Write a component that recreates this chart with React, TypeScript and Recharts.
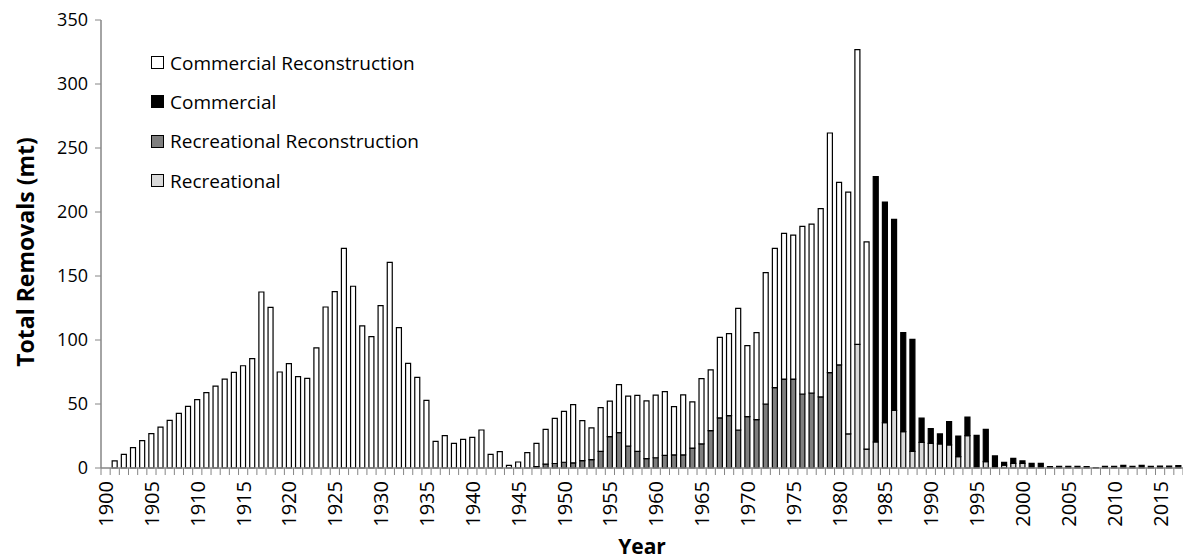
import React from 'react';
import { BarChart, Bar, XAxis, YAxis, Label } from 'recharts';

// categories: one bar per year
const years = Array.from({ length: 118 }, (_, i) => 1900 + i);

// stacked segments, bottom to top (mt)
const recreational = [
  0, 0, 0, 0, 0, 0, 0, 0, 0, 0,
  0, 0, 0, 0, 0, 0, 0, 0, 0, 0,
  0, 0, 0, 0, 0, 0, 0, 0, 0, 0,
  0, 0, 0, 0, 0, 0, 0, 0, 0, 0,
  0, 0, 0, 0, 0, 0, 0, 0, 0, 0,
  0, 0, 0, 0, 0, 0, 0, 0, 0, 0,
  0, 0, 0, 0, 0, 0, 0, 0, 0, 0,
  0, 0, 0, 0, 0, 0, 0, 0, 0, 0,
  0, 26.6, 96.6, 14.8, 20.3, 35.4, 45, 28.4, 13, 20,
  19.3, 18.8, 18, 8.9, 25.3, 0, 5, 0, 2.3, 3.6,
  3.6, 0, 0, 0, 0, 0, 0, 0, 0, 0,
  0, 0, 0, 0, 0, 0, 0, 0,
];

const recreationalRecon = [
  0, 0, 0, 0, 0, 0, 0, 0, 0, 0,
  0, 0, 0, 0, 0, 0, 0, 0, 0, 0,
  0, 0, 0, 0, 0, 0, 0, 0, 0, 0,
  0, 0, 0, 0, 0, 0, 0, 0, 0, 0,
  0, 0, 0, 0, 0, 0, 0, 1, 3, 3.5,
  4.5, 4, 5.7, 6.5, 13, 24.5, 27.6, 17.2, 13, 7.3,
  8, 9.8, 10.2, 10.2, 15.6, 18.8, 29.2, 39.1, 40.9, 29.7,
  40.1, 37.8, 50, 62.8, 69.5, 69.5, 57.8, 58.6, 55.5, 74.5,
  80.5, 0, 0, 0, 0, 0, 0, 0, 0, 0,
  0, 0, 0, 0, 0, 0, 0, 0, 0, 0,
  0, 0, 0, 0, 0, 0, 0, 0, 0, 0,
  0, 0, 0, 0, 0, 0, 0, 0,
];

const commercial = [
  0, 0, 0, 0, 0, 0, 0, 0, 0, 0,
  0, 0, 0, 0, 0, 0, 0, 0, 0, 0,
  0, 0, 0, 0, 0, 0, 0, 0, 0, 0,
  0, 0, 0, 0, 0, 0, 0, 0, 0, 0,
  0, 0, 0, 0, 0, 0, 0, 0, 0, 0,
  0, 0, 0, 0, 0, 0, 0, 0, 0, 0,
  0, 0, 0, 0, 0, 0, 0, 0, 0, 0,
  0, 0, 0, 0, 0, 0, 0, 0, 0, 0,
  0, 0, 0, 0, 207.3, 172.4, 149.3, 77.3, 87.5, 19,
  11.5, 7.8, 18.2, 16.1, 14.5, 25.5, 25.2, 9.4, 2.1, 3.9,
  1.9, 3.6, 3.6, 1.0, 1.2, 1.2, 1.2, 1.0, 0.3, 1.2,
  1.2, 2.0, 1.2, 2.0, 1.2, 1.5, 1.5, 1.8,
];

const commercialRecon = [
  0, 5.5, 10.7, 15.9, 21.4, 26.8, 32, 37.2, 42.7, 48.2,
  53.4, 58.9, 64, 69.5, 74.7, 79.9, 85.4, 137.5, 125.5, 75,
  81.5, 71.4, 70, 93.8, 125.8, 137.8, 171.6, 142, 111, 102.6,
  126.8, 160.7, 109.6, 81.8, 70.8, 52.9, 20.8, 25.3, 19.3, 22.4,
  23.9, 29.7, 10.7, 12.8, 2.1, 4.7, 12, 18.3, 27.2, 35.3,
  39.8, 45.5, 31.3, 24.8, 34.1, 27.8, 37.5, 39, 43.8, 45.2,
  49, 49.9, 37.8, 47, 36, 51, 47.4, 62.9, 64.1, 95,
  55.5, 67.9, 102.6, 108.8, 113.8, 112.5, 131, 132, 147.1, 187.2,
  142.7, 189, 230.2, 161.8, 0, 0, 0, 0, 0, 0,
  0, 0, 0, 0, 0, 0, 0, 0, 0, 0,
  0, 0, 0, 0, 0, 0, 0, 0, 0, 0,
  0, 0, 0, 0, 0, 0, 0, 0,
];

const yTicks = [0, 50, 100, 150, 200, 250, 300, 350];

// legend order as in the original (top to bottom)
const legendItems = [
  { name: 'Commercial Reconstruction', color: '#ffffff' },
  { name: 'Commercial', color: '#000000' },
  { name: 'Recreational Reconstruction', color: '#7f7f7f' },
  { name: 'Recreational', color: '#d9d9d9' },
];

const data = years.map((year, i) => ({
  year,
  recreational: recreational[i],
  recreationalRecon: recreationalRecon[i],
  commercial: commercial[i],
  commercialRecon: commercialRecon[i],
}));

const W = 1183;
const H = 559;
const Y_AXIS_W = 101;
const BAND = (W - Y_AXIS_W) / years.length;
const AXIS_GREY = '#868686';
const FONT = '"Open Sans", sans-serif';

function YearTick(props: any) {
  const { x, y, payload, index } = props;
  const year = payload.value as number;
  const ty = y + 13;
  return (
    <g>
      <line x1={x - BAND / 2} x2={x - BAND / 2} y1={y} y2={y + 7} stroke={AXIS_GREY} />
      {index === years.length - 1 && (
        <line x1={x + BAND / 2} x2={x + BAND / 2} y1={y} y2={y + 7} stroke={AXIS_GREY} />
      )}
      {year % 5 === 0 && (
        <text
          x={x}
          y={ty}
          transform={`rotate(-90, ${x}, ${ty})`}
          textAnchor="end"
          dominantBaseline="central"
          fontSize={20}
          fontFamily={FONT}
          fill="#000"
        >
          {year}
        </text>
      )}
    </g>
  );
}

export default function App() {
  const barProps = { stackId: 'a', stroke: '#000', strokeWidth: 1.2, isAnimationActive: false };
  return (
    <div style={{ position: 'absolute', left: 0, top: 0, width: W, height: H, background: '#fff', fontFamily: FONT }}>
      <BarChart width={W} height={H} data={data} margin={{ top: 20, right: 0, bottom: 0, left: 0 }} barSize={5}>
        <XAxis
          dataKey="year"
          height={91}
          interval={0}
          tickLine={false}
          tickSize={0}
          tickMargin={0}
          axisLine={{ stroke: AXIS_GREY, strokeWidth: 1.5 }}
          tick={<YearTick />}
        >
          <Label
            content={({ viewBox }: any) => (
              <text
                x={viewBox.x + viewBox.width / 2}
                y={viewBox.y + 86}
                textAnchor="middle"
                fontSize={21}
                fontWeight="bold"
                fontFamily={FONT}
                fill="#000"
              >
                Year
              </text>
            )}
          />
        </XAxis>
        <YAxis
          width={Y_AXIS_W}
          domain={[0, 350]}
          ticks={yTicks}
          interval={0}
          tickSize={6}
          tickMargin={7}
          axisLine={{ stroke: AXIS_GREY, strokeWidth: 1.5 }}
          tickLine={{ stroke: AXIS_GREY }}
          tick={{ fill: '#000', fontSize: 18, fontFamily: FONT }}
        >
          <Label
            content={({ viewBox }: any) => {
              const cx = 25;
              const cy = viewBox.y + viewBox.height / 2 + 8;
              return (
                <text
                  x={cx}
                  y={cy}
                  transform={`rotate(-90, ${cx}, ${cy})`}
                  textAnchor="middle"
                  dominantBaseline="central"
                  fontSize={23}
                  fontWeight="bold"
                  fontFamily={FONT}
                  fill="#000"
                >
                  Total Removals (mt)
                </text>
              );
            }}
          />
        </YAxis>
        <Bar dataKey="recreational" name="Recreational" fill="#d9d9d9" {...barProps} />
        <Bar dataKey="recreationalRecon" name="Recreational Reconstruction" fill="#7f7f7f" {...barProps} />
        <Bar dataKey="commercial" name="Commercial" fill="#000000" {...barProps} />
        <Bar dataKey="commercialRecon" name="Commercial Reconstruction" fill="#ffffff" {...barProps} />
      </BarChart>
      <div style={{ position: 'absolute', left: 151, top: 43 }}>
        {legendItems.map((item) => (
          <div key={item.name} style={{ display: 'flex', alignItems: 'center', height: 39.3, fontSize: 19, color: '#000' }}>
            <span
              style={{
                display: 'inline-block',
                width: 11,
                height: 11,
                background: item.color,
                border: '1px solid #000',
                marginRight: 6,
              }}
            />
            <span>{item.name}</span>
          </div>
        ))}
      </div>
    </div>
  );
}
